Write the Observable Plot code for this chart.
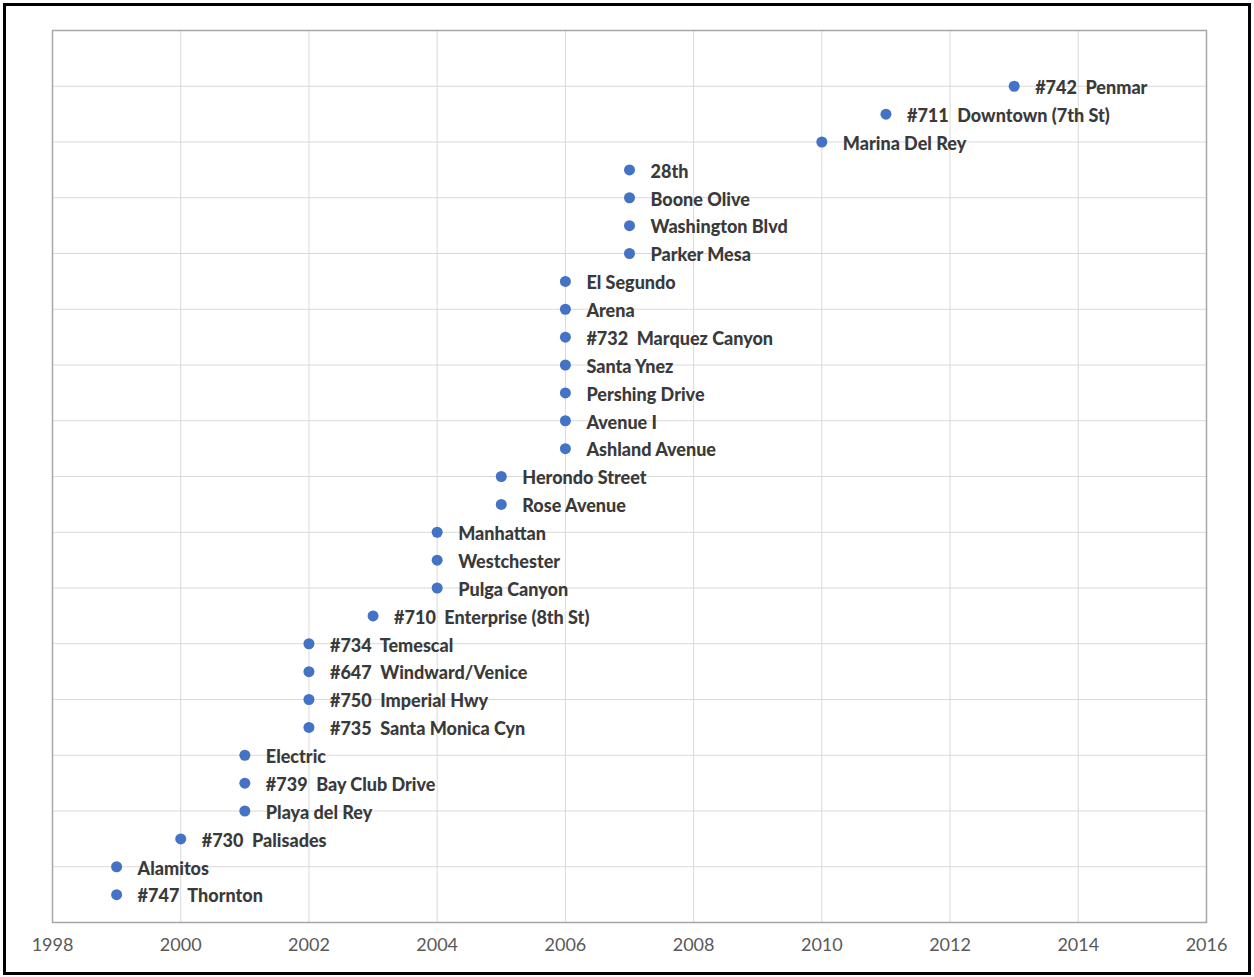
<!DOCTYPE html>
<html>
<head>
<meta charset="utf-8">
<script src="https://cdn.jsdelivr.net/npm/d3@7"></script>
<script src="https://cdn.jsdelivr.net/npm/@observablehq/plot@0.6"></script>
<style>
  html, body { margin: 0; padding: 0; background: #fff; }
  #wrap { position: relative; width: 1254px; height: 977px; }
  #border { position: absolute; left: 3px; top: 3px; width: 1242px; height: 966px; border: 3px solid #000; pointer-events: none; }
  svg text { white-space: pre; }
</style>
</head>
<body>
<div id="wrap"><div id="border"></div></div>
<script>
// Station names (bottom to top) and the year each appears
const names = [
  "#747  Thornton", "Alamitos", "#730  Palisades", "Playa del Rey", "#739  Bay Club Drive",
  "Electric", "#735  Santa Monica Cyn", "#750  Imperial Hwy", "#647  Windward/Venice", "#734  Temescal",
  "#710  Enterprise (8th St)", "Pulga Canyon", "Westchester", "Manhattan", "Rose Avenue",
  "Herondo Street", "Ashland Avenue", "Avenue I", "Pershing Drive", "Santa Ynez",
  "#732  Marquez Canyon", "Arena", "El Segundo", "Parker Mesa", "Washington Blvd",
  "Boone Olive", "28th", "Marina Del Rey", "#711  Downtown (7th St)", "#742  Penmar"
];
const years = [
  1999, 1999, 2000, 2001, 2001,
  2001, 2002, 2002, 2002, 2002,
  2003, 2004, 2004, 2004, 2005,
  2005, 2006, 2006, 2006, 2006,
  2006, 2006, 2006, 2007, 2007,
  2007, 2007, 2010, 2011, 2013
];
const rank = names.map((_, i) => i + 1);
const xTicks = [1998, 2000, 2002, 2004, 2006, 2008, 2010, 2012, 2014, 2016];
const yGrid = [0, 2, 4, 6, 8, 10, 12, 14, 16, 18, 20, 22, 24, 26, 28, 30, 32];

const data = names.map((n, i) => ({name: n, year: years[i], rank: rank[i]}));

const chart = Plot.plot({
  width: 1254,
  height: 977,
  marginLeft: 52,
  marginRight: 48,
  marginTop: 30,
  marginBottom: 55,
  style: { fontFamily: "Lato, sans-serif", background: "transparent" },
  x: { domain: [1998, 2016], label: null },
  y: { domain: [0, 32], axis: null, label: null },
  marks: [
    Plot.gridX(xTicks, { stroke: "#d9d9d9", strokeOpacity: 1, strokeWidth: 1 }),
    Plot.gridY(yGrid, { stroke: "#d9d9d9", strokeOpacity: 1, strokeWidth: 1 }),
    Plot.frame({ stroke: "#a6a6a6", strokeWidth: 1.5 }),
    Plot.axisX(xTicks, { tickSize: 0, tickPadding: 16, fontSize: 18, fill: "#595959", label: null, tickFormat: d => String(d) }),
    Plot.dot(data, { x: "year", y: "rank", r: 5.5, fill: "#4472C4", stroke: "none" }),
    Plot.text(data, { x: "year", y: "rank", text: "name", textAnchor: "start", dx: 21, dy: 2,
      fontSize: 18, fontWeight: 900, fill: "#3a3a3a" })
  ]
});
document.getElementById("wrap").prepend(chart);
</script>
</body>
</html>
